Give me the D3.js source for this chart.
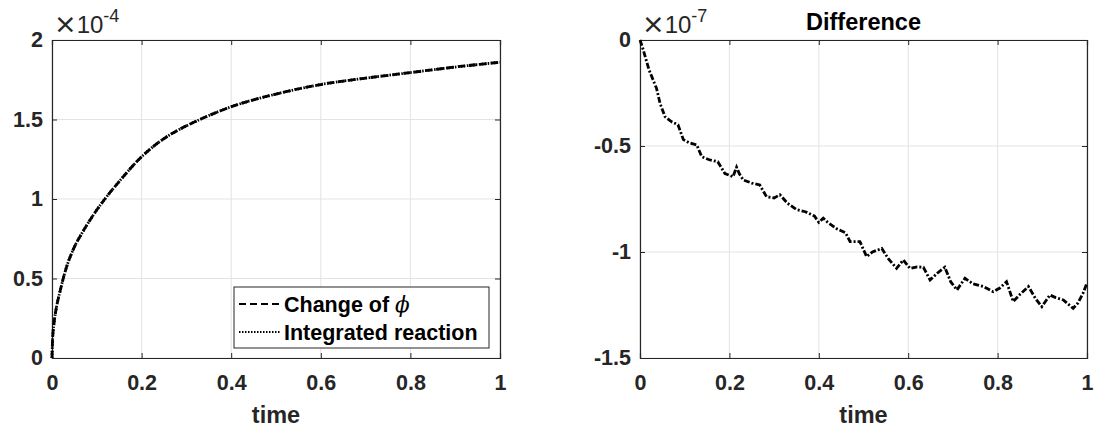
<!DOCTYPE html>
<html><head><meta charset="utf-8">
<script src="https://cdn.jsdelivr.net/npm/d3@7"></script>
<style>
body{margin:0;background:#fff;}
svg{font-family:"Liberation Sans",Arial,Helvetica,sans-serif;}
</style></head>
<body><svg id="c" width="1095" height="432"></svg>
<script>
// ---- data ----
const timeLeft = [0,0.001,0.002,0.005,0.01,0.018,0.03,0.047,0.07,0.09,0.118,0.15,0.196,0.25,0.3,0.33,0.4,0.5,0.6,0.7,0.8,0.9,1.0];
const changeOfPhi = [0,0.10,0.15,0.23,0.32,0.42,0.55,0.68,0.80,0.89,1.0,1.11,1.255,1.38,1.46,1.50,1.58,1.66,1.72,1.76,1.795,1.83,1.86];
const integratedReaction = [0,0.10,0.15,0.23,0.32,0.42,0.55,0.68,0.80,0.89,1.0,1.11,1.255,1.38,1.46,1.50,1.58,1.66,1.72,1.76,1.795,1.83,1.86];

const timeRight = [0,0.005,0.02,0.037,0.045,0.056,0.07,0.085,0.097,0.11,0.127,0.138,0.155,0.174,0.19,0.208,0.216,0.222,0.231,0.25,0.268,0.283,0.3,0.313,0.33,0.35,0.37,0.39,0.40,0.41,0.42,0.44,0.46,0.47,0.492,0.507,0.52,0.541,0.555,0.574,0.589,0.604,0.62,0.634,0.649,0.665,0.682,0.695,0.709,0.727,0.745,0.768,0.79,0.805,0.82,0.835,0.85,0.869,0.885,0.899,0.917,0.93,0.947,0.969,0.98,0.991,1.0];
const difference = [0,-0.03,-0.14,-0.228,-0.30,-0.362,-0.385,-0.40,-0.47,-0.485,-0.495,-0.55,-0.565,-0.574,-0.63,-0.645,-0.60,-0.63,-0.66,-0.675,-0.684,-0.739,-0.745,-0.73,-0.77,-0.80,-0.81,-0.83,-0.86,-0.84,-0.86,-0.89,-0.91,-0.951,-0.951,-1.022,-1.0,-0.983,-1.03,-1.077,-1.038,-1.077,-1.07,-1.072,-1.132,-1.10,-1.072,-1.14,-1.179,-1.124,-1.15,-1.163,-1.187,-1.17,-1.14,-1.234,-1.2,-1.163,-1.22,-1.258,-1.203,-1.215,-1.226,-1.266,-1.24,-1.195,-1.146];

const xTicks = [0,0.2,0.4,0.6,0.8,1];
const xTickLabels = ["0","0.2","0.4","0.6","0.8","1"];
const yTicksLeft = [0,0.5,1,1.5,2];
const yTickLabelsLeft = ["0","0.5","1","1.5","2"];
const yTicksRight = [0,-0.5,-1,-1.5];
const yTickLabelsRight = ["0","-0.5","-1","-1.5"];
const legendLabels = ["Change of ", "Integrated reaction"];

// ---- drawing ----
const svg = d3.select("#c");
const ink = "#262626";
const FS = 21.5;

function panel(x0, x1, y0, y1, yDomain, yTicks, yLabels, expo, title) {
  const x = d3.scaleLinear().domain([0,1]).range([x0,x1]);
  const y = d3.scaleLinear().domain(yDomain).range([y1,y0]);
  const g = svg.append("g");
  g.selectAll(".gx").data(xTicks).join("line")
    .attr("x1",d=>x(d)).attr("x2",d=>x(d)).attr("y1",y0).attr("y2",y1)
    .attr("stroke","#e3e3e3").attr("stroke-width",1);
  g.selectAll(".gy").data(yTicks).join("line")
    .attr("x1",x0).attr("x2",x1).attr("y1",d=>y(d)).attr("y2",d=>y(d))
    .attr("stroke","#e3e3e3").attr("stroke-width",1);
  const ax = d3.axisBottom(x).tickValues(xTicks).tickSize(-5).tickPadding(17).tickFormat((d,i)=>xTickLabels[i]);
  const axT = d3.axisTop(x).tickValues(xTicks).tickSize(-5).tickFormat("");
  const ay = d3.axisLeft(y).tickValues(yTicks).tickSize(-5).tickPadding(9).tickFormat((d,i)=>yLabels[i]);
  const ayR = d3.axisRight(y).tickValues(yTicks).tickSize(-5).tickFormat("");
  const gb = g.append("g").attr("transform",`translate(0,${y1})`).call(ax);
  const gt = g.append("g").attr("transform",`translate(0,${y0})`).call(axT);
  const gl = g.append("g").attr("transform",`translate(${x0},0)`).call(ay);
  const gr = g.append("g").attr("transform",`translate(${x1},0)`).call(ayR);
  [gb,gt,gl,gr].forEach(a=>{
    a.select(".domain").attr("stroke",ink).attr("stroke-width",1.2);
    a.selectAll(".tick line").attr("stroke",ink).attr("stroke-width",1);
    a.selectAll("text").attr("fill",ink).attr("font-size",FS).attr("font-weight","bold")
      .attr("font-family",'"Liberation Sans",Arial,sans-serif');
  });
  gb.selectAll("text").attr("dy","0.71em");
  const ex = svg.append("text").attr("x",x0+2).attr("y",y0-7).attr("fill",ink).attr("font-size",24);
  ex.append("tspan").attr("font-size",27).attr("font-family",'"DejaVu Sans",sans-serif').text("\u00d7");
  ex.append("tspan").text("10");
  ex.append("tspan").attr("dy",-11).attr("font-size",18).text(expo);
  svg.append("text").attr("x",(x0+x1)/2).attr("y",423).attr("text-anchor","middle")
    .attr("fill",ink).attr("font-size",23.5).attr("font-weight","bold").text("time");
  if (title) {
    svg.append("text").attr("x",(x0+x1)/2).attr("y",y0-10).attr("text-anchor","middle")
      .attr("fill","#000").attr("font-size",23.5).attr("font-weight","bold").text(title);
  }
  return {x,y};
}

// left panel
const L = panel(52,500,40,358,[0,2],yTicksLeft,yTickLabelsLeft,"-4",null);
const lineL = d3.line().x((d,i)=>L.x(timeLeft[i])).y(d=>L.y(d)).curve(d3.curveMonotoneX);
svg.append("path").attr("d",lineL(changeOfPhi)).attr("fill","none").attr("stroke","#000")
  .attr("stroke-width",2.8).attr("stroke-dasharray","7,4");
svg.append("path").attr("d",lineL(integratedReaction)).attr("fill","none").attr("stroke","#000")
  .attr("stroke-width",2.8).attr("stroke-dasharray","1.5,1.5");

// legend
const lg = svg.append("g");
lg.append("rect").attr("x",234).attr("y",287).attr("width",255).attr("height",61)
  .attr("fill","#fff").attr("stroke",ink).attr("stroke-width",1);
lg.append("line").attr("x1",239).attr("x2",281).attr("y1",304).attr("y2",304)
  .attr("stroke","#000").attr("stroke-width",2).attr("stroke-dasharray","7,4");
lg.append("line").attr("x1",239).attr("x2",281).attr("y1",332).attr("y2",332)
  .attr("stroke","#000").attr("stroke-width",2).attr("stroke-dasharray","1.5,1.5");
const t1 = lg.append("text").attr("x",284).attr("y",312).attr("fill","#000").attr("font-size",FS).attr("font-weight","bold");
t1.append("tspan").text(legendLabels[0]);
t1.append("tspan").attr("font-family",'"DejaVu Serif",serif').attr("font-style","italic").attr("font-weight","normal").text("\u03d5");
lg.append("text").attr("x",284).attr("y",340).attr("fill","#000").attr("font-size",FS).attr("font-weight","bold").text(legendLabels[1]);

// right panel
const R = panel(640,1087,40,358,[-1.5,0],yTicksRight,yTickLabelsRight,"-7","Difference");
const lineR = d3.line().x((d,i)=>R.x(timeRight[i])).y(d=>R.y(d));
svg.append("path").attr("d",lineR(difference)).attr("fill","none").attr("stroke","#000")
  .attr("stroke-width",2.8).attr("stroke-dasharray","6,2,2,2");
</script></body></html>
